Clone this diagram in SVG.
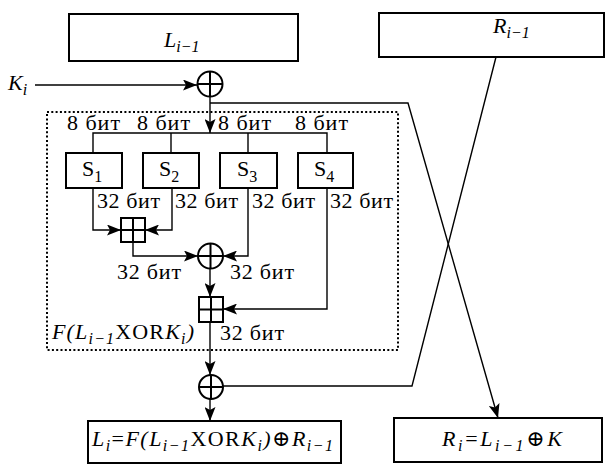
<svg xmlns="http://www.w3.org/2000/svg" width="605" height="464" viewBox="0 0 605 464">
<style>
.box{fill:#fff;stroke:#000;stroke-width:2}
.ln{fill:none;stroke:#000;stroke-width:1.4}
.ar{marker-end:url(#ah)}
text{font-family:'Liberation Serif','Times New Roman','DejaVu Serif',serif;font-size:22px;fill:#000}
.it{font-style:italic}
.sub{font-size:16px}
.op{fill:none;stroke:#000;stroke-width:2}
.dot{fill:none;stroke:#000;stroke-width:2;stroke-dasharray:2 2.3}
</style>
<defs>
<marker id="ah" markerUnits="userSpaceOnUse" markerWidth="14" markerHeight="11" refX="14" refY="5.5" orient="auto">
<path d="M0,0 L14,5.5 L0,11 L3,5.5 z" fill="#000"/>
</marker>
</defs>
<rect width="605" height="464" fill="#fff"/>

<g id="frame">
<rect class="dot" x="47" y="112" width="351" height="238"/>
<text class="it" x="52" y="339" font-size="23" textLength="142" lengthAdjust="spacing">F(L<tspan class="sub" dy="5">i−1</tspan><tspan dy="-5" font-style="normal">XOR</tspan>K<tspan class="sub" dy="5">i</tspan><tspan dy="-5">)</tspan></text>
</g>

<g id="connectors">
<line class="ln ar" x1="35" y1="85" x2="197" y2="85"/>
<line class="ln ar" x1="210" y1="97" x2="210" y2="133"/>
<polyline class="ln" points="93,153 93,133 327,133 327,153"/>
<line class="ln" x1="171" y1="133" x2="171" y2="153"/>
<line class="ln" x1="248" y1="133" x2="248" y2="153"/>
<polyline class="ln ar" points="210,103 408,103 498,418"/>
<polyline class="ln" points="496,57 412,386 223,386"/>
<polyline class="ln ar" points="93,188 93,230 121,230"/>
<polyline class="ln ar" points="172,188 172,230 145,230"/>
<polyline class="ln ar" points="133,242 133,256 198,256"/>
<polyline class="ln ar" points="248,188 248,256 223,256"/>
<line class="ln ar" x1="210" y1="268" x2="210" y2="297"/>
<polyline class="ln ar" points="327,188 327,309 223,309"/>
<line class="ln ar" x1="210" y1="322" x2="210" y2="375"/>
<line class="ln ar" x1="210" y1="399" x2="210" y2="421"/>
</g>

<g id="labels">
<text x="67" y="130" textLength="53">8 бит</text>
<text x="137" y="130" textLength="53">8 бит</text>
<text x="218" y="130" textLength="53">8 бит</text>
<text x="295" y="130" textLength="53">8 бит</text>
<text x="97" y="208" textLength="63">32 бит</text>
<text x="175" y="208" textLength="63">32 бит</text>
<text x="252" y="208" textLength="63">32 бит</text>
<text x="330" y="208" textLength="63">32 бит</text>
<text x="117" y="279" textLength="64">32 бит</text>
<text x="230" y="279" textLength="64">32 бит</text>
<text x="220" y="340" textLength="64">32 бит</text>
<text class="it" x="8" y="90" font-size="25">K<tspan class="sub" dy="5">i</tspan></text>
</g>

<g id="L_prev">
<rect class="box" x="69" y="14" width="229" height="47"/>
<text class="it" x="164" y="47" font-size="25">L<tspan class="sub" dy="5">i−1</tspan></text>
</g>
<g id="R_prev">
<rect class="box" x="379" y="13" width="225" height="44"/>
<text class="it" x="493" y="33" font-size="25">R<tspan class="sub" dy="5">i−1</tspan></text>
</g>

<g id="xor1"><circle class="op" cx="210" cy="84" r="12.5"/><path class="op" d="M197.5,84 H222.5 M210,71.5 V96.5"/></g>
<g id="S1"><rect class="box" x="66" y="153" width="56" height="35"/><text x="82" y="176" font-size="25">S<tspan class="sub" dy="6">1</tspan></text></g>
<g id="S2"><rect class="box" x="143" y="153" width="56" height="35"/><text x="159" y="176" font-size="25">S<tspan class="sub" dy="6">2</tspan></text></g>
<g id="S3"><rect class="box" x="220" y="153" width="57" height="35"/><text x="237" y="176" font-size="25">S<tspan class="sub" dy="6">3</tspan></text></g>
<g id="S4"><rect class="box" x="298" y="153" width="55" height="35"/><text x="314" y="176" font-size="25">S<tspan class="sub" dy="6">4</tspan></text></g>
<g id="add1"><rect class="op" x="121" y="218" width="24" height="24"/><path class="op" d="M121,230 H145 M133,218 V242"/></g>
<g id="xor2"><circle class="op" cx="210.5" cy="256" r="12.5"/><path class="op" d="M198,256 H223 M210.5,243.5 V268.5"/></g>
<g id="add2"><rect class="op" x="199" y="297" width="24" height="25"/><path class="op" d="M199,309.5 H223 M211,297 V322"/></g>
<g id="xor3"><circle class="op" cx="211" cy="387" r="12"/><path class="op" d="M199,387 H223 M211,375 V399"/></g>

<g id="L_new">
<rect class="box" x="88" y="421" width="253" height="42"/>
<text class="it" x="92" y="446" font-size="23" textLength="241" lengthAdjust="spacing">L<tspan class="sub" dy="5">i</tspan><tspan dy="-5" font-style="normal">=</tspan>F(L<tspan class="sub" dy="5">i−1</tspan><tspan dy="-5" font-style="normal">XOR</tspan>K<tspan class="sub" dy="5">i</tspan><tspan dy="-5">)</tspan><tspan font-style="normal">⊕</tspan>R<tspan class="sub" dy="5">i−1</tspan></text>
</g>
<g id="R_new">
<rect class="box" x="394" y="418" width="208" height="44"/>
<text class="it" x="442" y="446" font-size="23" textLength="120" lengthAdjust="spacing">R<tspan class="sub" dy="5">i</tspan><tspan dy="-5" font-style="normal">=</tspan>L<tspan class="sub" dy="5">i−1</tspan><tspan dy="-5" font-style="normal">⊕</tspan>K</text>
</g>
</svg>
